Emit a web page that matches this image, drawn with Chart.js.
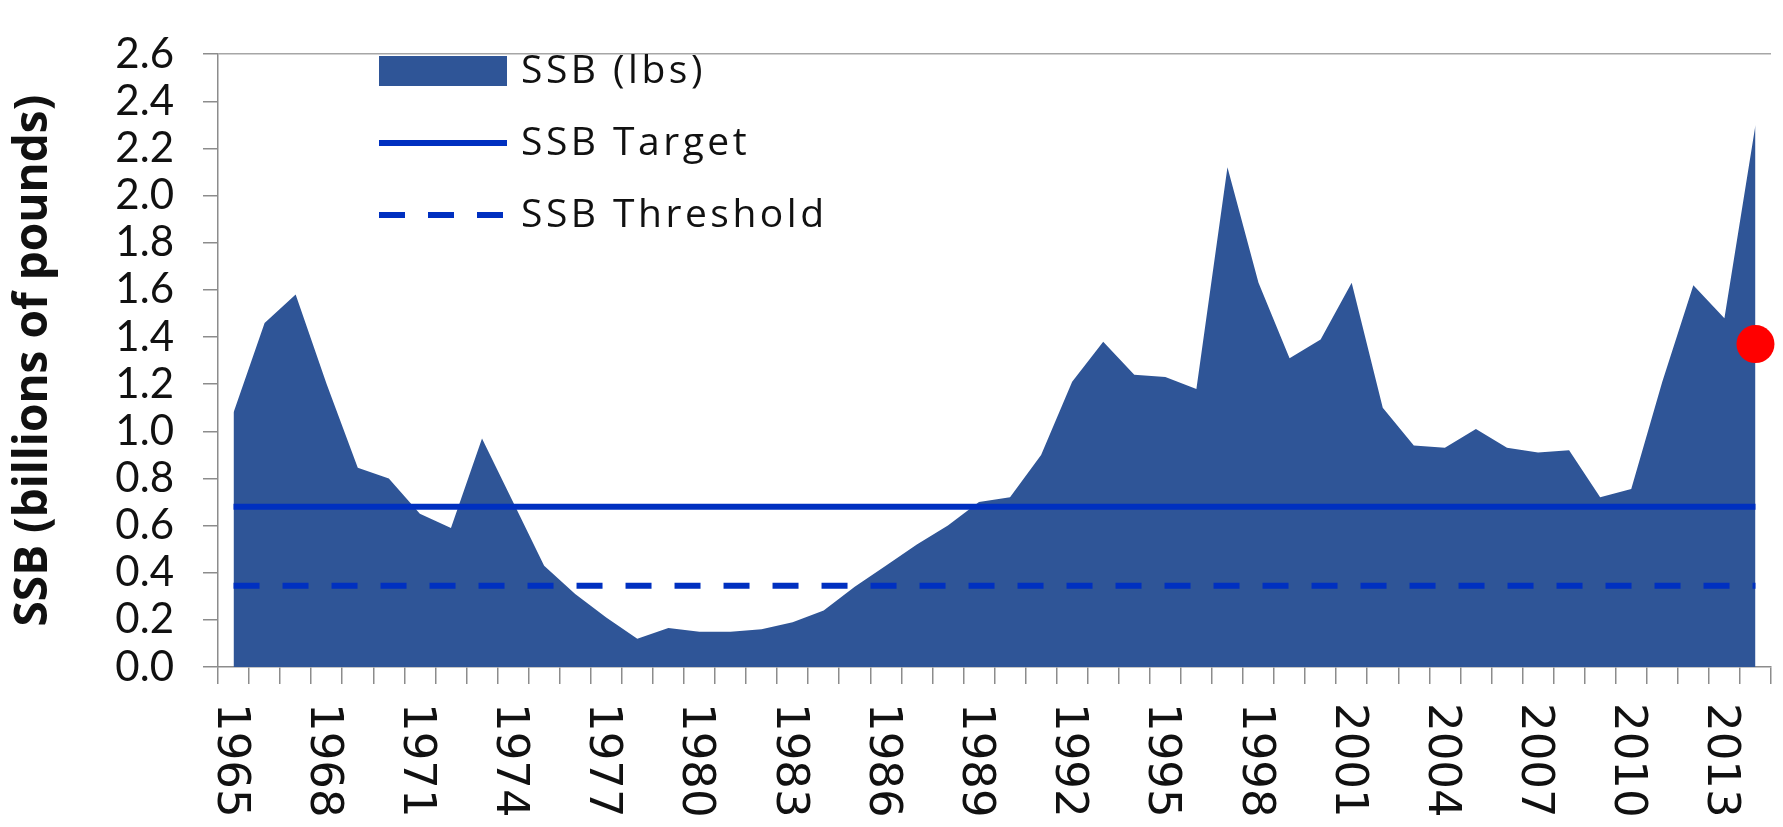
<!DOCTYPE html>
<html>
<head>
<meta charset="utf-8">
<title>SSB</title>
<script src="https://cdn.jsdelivr.net/npm/chart.js@4.4.1/dist/chart.umd.min.js"></script>
<style>
  html, body { margin: 0; padding: 0; background: #fff; overflow: hidden; }
  #wrap { width: 1790px; height: 827px; }
</style>
</head>
<body>
<div id="wrap"><canvas id="ssbChart" width="1790" height="827"></canvas></div>
<script>
// data (billions of pounds)
const years = [
  "1965", "1966", "1967", "1968", "1969", "1970", "1971", "1972", "1973", "1974",
  "1975", "1976", "1977", "1978", "1979", "1980", "1981", "1982", "1983", "1984",
  "1985", "1986", "1987", "1988", "1989", "1990", "1991", "1992", "1993", "1994",
  "1995", "1996", "1997", "1998", "1999", "2000", "2001", "2002", "2003", "2004",
  "2005", "2006", "2007", "2008", "2009", "2010", "2011", "2012", "2013", "2014"
];
const ssb = [
  1.08, 1.46, 1.58, 1.20, 0.845, 0.80, 0.65, 0.59, 0.97, 0.70,
  0.43, 0.31, 0.21, 0.12, 0.165, 0.15, 0.15, 0.16, 0.19, 0.24,
  0.34, 0.43, 0.52, 0.60, 0.70, 0.72, 0.90, 1.21, 1.38, 1.24,
  1.23, 1.18, 2.12, 1.63, 1.31, 1.39, 1.63, 1.10, 0.94, 0.93,
  1.01, 0.93, 0.91, 0.92, 0.72, 0.755, 1.21, 1.62, 1.48, 2.30
];
const ssbTarget = 0.68;
const ssbThreshold = 0.345;
const estimateYear = "2014";
const estimateValue = 1.37;
const yMin = 0;
const yMax = 2.6;
const yStep = 0.2;
const labelEvery = 3;

const areaColor = "#2F5597";
const lineColor = "#0030C0";
const axisGray = "#8C8C8C";

// x labels read top to bottom in the original, so they are drawn here
const yearLabels = {
  id: "yearLabels",
  afterDraw(chart) {
    const ctx = chart.ctx;
    const xs = chart.scales.x;
    ctx.save();
    ctx.font = "45px 'DejaVu Sans'";
    ctx.fillStyle = "#111";
    ctx.textAlign = "left";
    ctx.textBaseline = "alphabetic";
    years.forEach(function (yr, i) {
      if (i % labelEvery !== 0) return;
      ctx.save();
      ctx.translate(xs.getPixelForValue(i), chart.chartArea.bottom + 36);
      ctx.rotate(Math.PI / 2);
      ctx.fillText(yr, 0, 16);
      ctx.restore();
    });
    ctx.restore();
  }
};

// legend sits inside the plot, top left
const insideLegend = {
  id: "insideLegend",
  afterDatasetsDraw(chart) {
    const ctx = chart.ctx;
    const area = chart.chartArea;
    const x0 = area.left + 161;
    const x1 = area.left + 289;
    const tx = area.left + 303;
    const rows = [71, 143, 215];
    const items = chart.data.datasets.filter(function (d) { return d.inLegend; });
    ctx.save();
    ctx.font = "39px 'Open Sans'";
    ctx.letterSpacing = "3.5px";
    ctx.textBaseline = "middle";
    items.forEach(function (d, i) {
      const y = rows[i];
      if (d.fill) {
        ctx.fillStyle = d.backgroundColor;
        ctx.fillRect(x0, y - 15, x1 - x0, 30);
      } else {
        ctx.strokeStyle = d.borderColor;
        ctx.lineWidth = d.borderWidth;
        ctx.setLineDash(d.borderDash || []);
        ctx.beginPath();
        ctx.moveTo(x0, y);
        ctx.lineTo(x1, y);
        ctx.stroke();
        ctx.setLineDash([]);
      }
      ctx.fillStyle = "#111";
      ctx.fillText(d.label, tx, y + 1);
    });
    ctx.restore();
  }
};

const first = years[0];
const last = years[years.length - 1];

new Chart(document.getElementById("ssbChart"), {
  type: "line",
  data: {
    labels: years,
    datasets: [
      {
        label: "SSB (lbs)",
        data: ssb,
        inLegend: true,
        fill: "origin",
        backgroundColor: areaColor,
        borderColor: areaColor,
        borderWidth: 0,
        pointRadius: 0,
        tension: 0,
        order: 3
      },
      {
        label: "SSB Target",
        data: [{ x: first, y: ssbTarget }, { x: last, y: ssbTarget }],
        inLegend: true,
        fill: false,
        borderColor: lineColor,
        borderWidth: 6,
        pointRadius: 0,
        order: 2
      },
      {
        label: "SSB Threshold",
        data: [{ x: first, y: ssbThreshold }, { x: last, y: ssbThreshold }],
        inLegend: true,
        fill: false,
        borderColor: lineColor,
        borderWidth: 6,
        borderDash: [26, 23],
        pointRadius: 0,
        order: 1
      },
      {
        label: "Latest estimate",
        data: [{ x: estimateYear, y: estimateValue }],
        showLine: false,
        pointRadius: 19,
        pointBackgroundColor: "#FF0000",
        pointBorderWidth: 0,
        order: 0
      }
    ]
  },
  options: {
    responsive: false,
    animation: false,
    devicePixelRatio: 1,
    layout: { padding: { top: 31, right: 0, bottom: 0, left: 0 } },
    plugins: {
      legend: { display: false },
      tooltip: { enabled: false }
    },
    scales: {
      x: {
        type: "category",
        offset: true,
        grid: {
          offset: true,
          drawOnChartArea: false,
          drawTicks: true,
          tickLength: 17,
          color: axisGray,
          lineWidth: 1.5
        },
        border: { display: true, color: axisGray, width: 1.5 },
        ticks: { display: false, autoSkip: false },
        afterFit: function (scale) { scale.height = 160; }
      },
      y: {
        min: yMin,
        max: yMax,
        border: { display: true, color: axisGray, width: 1.5 },
        grid: {
          drawTicks: true,
          tickLength: 15,
          lineWidth: 1.5,
          color: function (c) {
            return Math.abs(c.tick.value - yMax) < 1e-6 ? "#A6A6A6" : "rgba(0,0,0,0)";
          },
          tickColor: axisGray
        },
        ticks: {
          stepSize: yStep,
          autoSkip: false,
          padding: 29,
          color: "#111",
          font: { family: "Lato", size: 42 },
          callback: function (v) { return Number(v).toFixed(1); }
        },
        title: {
          display: true,
          text: "SSB (billions of pounds)",
          color: "#111",
          padding: { top: 6, bottom: 0 },
          font: { family: "Open Sans", size: 46, weight: "bold" }
        },
        afterFit: function (scale) { scale.width = 218; }
      }
    }
  },
  plugins: [yearLabels, insideLegend]
});
</script>
</body>
</html>
